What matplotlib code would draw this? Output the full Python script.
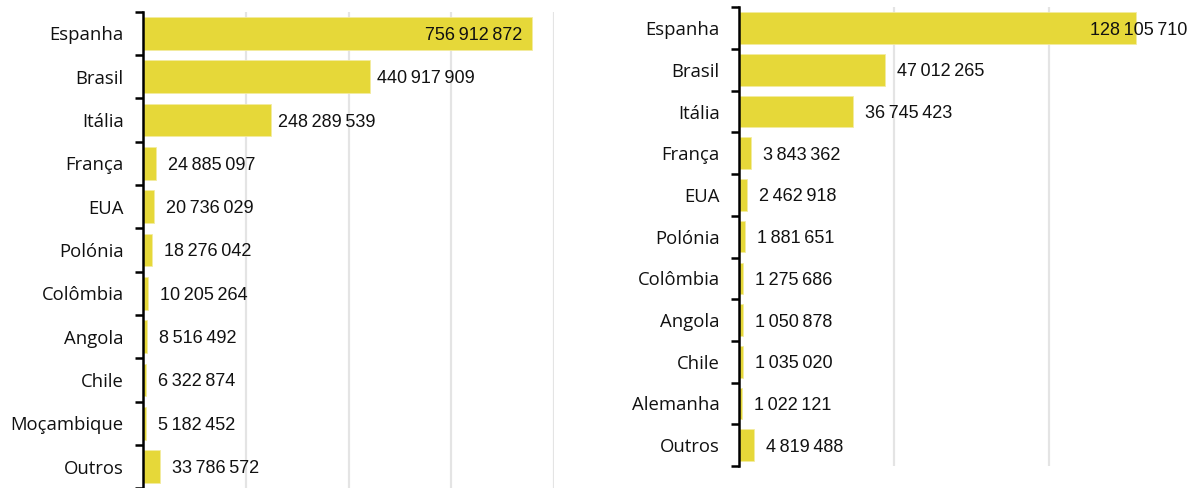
import matplotlib
matplotlib.use("Agg")
import matplotlib.pyplot as plt
import numpy as np

plt.rcParams['font.family'] = ['Liberation Sans', 'DejaVu Sans']

# Left panel
left_countries = ["Espanha", "Brasil", "Itália", "França", "EUA", "Polónia",
                  "Colômbia", "Angola", "Chile", "Moçambique", "Outros"]
left_values = [756912872, 440917909, 248289539, 24885097, 20736029, 18276042,
               10205264, 8516492, 6322874, 5182452, 33786572]

# Right panel
right_countries = ["Espanha", "Brasil", "Itália", "França", "EUA", "Polónia",
                   "Colômbia", "Angola", "Chile", "Alemanha", "Outros"]
right_values = [128105710, 47012265, 36745423, 3843362, 2462918, 1881651,
                1275686, 1050878, 1035020, 1022121, 4819488]

BAR = "#E6D839"
GRID = "#E4E4E4"
TXT = "#111111"
VAL_FS = 13
CAT_FS = 13.3

W, H = 1197, 488
fig = plt.figure(figsize=(W / 100, H / 100), dpi=100)
PX = 72 / 100  # points per pixel


def fmt(v):
    return f"{v:,}".replace(",", "\u2009")


def panel(rect, cats, vals, xmax, step, big_off_px, first_label):
    ax = fig.add_axes(rect)
    n = len(cats)
    y = np.arange(n)
    ax.barh(y, vals, height=0.76, color=BAR, edgecolor="#F3EBA0",
            linewidth=0.6, zorder=2)
    ax.set_xlim(0, xmax)
    ax.set_ylim(n - 0.5, -0.5)
    ax.set_xticks(np.arange(step, xmax + 1, step))
    ax.xaxis.grid(True, color=GRID, linewidth=1.6, zorder=0)
    ax.tick_params(axis="x", length=0, labelbottom=False)
    for s in ("top", "right", "bottom"):
        ax.spines[s].set_visible(False)
    ax.spines["left"].set_linewidth(1.8)
    ax.spines["left"].set_color("#000000")
    ax.spines["left"].set_zorder(3)
    ax.set_yticks(y)
    ax.set_yticklabels(cats, fontsize=CAT_FS, color=TXT,
                       family=["Open Sans", "DejaVu Sans"])
    ax.tick_params(axis="y", which="major", length=0, pad=14)
    ax.set_yticks(np.arange(n + 1) - 0.5, minor=True)
    ax.tick_params(axis="y", which="minor", length=6, width=1.8, color="#000000")
    for i, v in enumerate(vals):
        if i == 0:
            dx_px, ha = first_label
        else:
            dx_px = big_off_px if v > 0.1 * xmax else 12
            ha = "left"
        ax.annotate(fmt(v), xy=(v, i), xytext=(dx_px * PX, 0),
                    textcoords="offset points", ha=ha,
                    va="center_baseline", fontsize=VAL_FS, color=TXT,
                    zorder=4, annotation_clip=False)
    return ax


# value label of the widest bar sits inside its end on the left panel,
# and is pulled back to stay within the figure on the right panel
panel([143 / W, 1 - 488.3 / H, 411 / W, 476.6 / H],
      left_countries, left_values, 800e6, 200e6, 7, (-10, "right"))
panel([739.3 / W, 1 - 466 / H, 464.1 / W, 458.7 / H],
      right_countries, right_values, 150e6, 50e6, 12, (52, "right"))

fig.savefig("out.png", dpi=100)
